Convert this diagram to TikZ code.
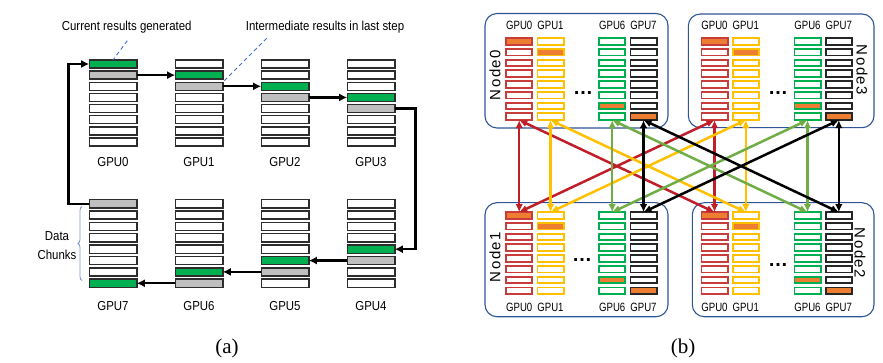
\documentclass[tikz,border=0pt]{standalone}
\usepackage{fontspec}
\setmainfont{Liberation Sans}
\newfontfamily\capfont{Liberation Serif}
\usetikzlibrary{arrows.meta,decorations.pathreplacing,calc}
\definecolor{gfill}{RGB}{0,176,80}
\definecolor{grfill}{RGB}{191,191,191}
\definecolor{blkline}{RGB}{45,45,45}
\definecolor{dashblue}{RGB}{68,114,196}
\definecolor{bracecol}{RGB}{120,150,200}
\definecolor{cred}{RGB}{200,60,60}
\definecolor{ared}{RGB}{192,30,40}
\definecolor{cyel}{RGB}{255,192,0}
\definecolor{ayel}{RGB}{255,192,0}
\definecolor{cgrn}{RGB}{0,176,80}
\definecolor{agrn}{RGB}{112,173,71}
\definecolor{cblk}{RGB}{38,38,38}
\definecolor{ablack}{RGB}{0,0,0}
\definecolor{orfill}{RGB}{237,125,49}
\definecolor{nboxcol}{RGB}{47,85,151}
\newcommand\cnd[1]{\scalebox{0.88}[1]{#1}}
\newcommand\cndb[1]{\scalebox{0.8}[1]{#1}}
\begin{document}
\begin{tikzpicture}[x=1pt,y=-1pt,
  ablk/.style={draw=blkline, line width=1.4pt, minimum width=47.6pt, minimum height=8.1pt, inner sep=0pt, outer sep=0pt},
  alab/.style={font=\fontsize{13}{15}\selectfont, inner sep=0pt},
  atxt/.style={font=\fontsize{13}{15}\selectfont, inner sep=0pt},
  aarr/.style={line width=2.4pt, draw=black, -{Latex[length=8pt,width=8pt]}},
  dsh/.style={draw=dashblue, line width=0.9pt, dash pattern=on 4pt off 3pt},
  bblk/.style={line width=1.8pt, minimum width=26.2pt, minimum height=6.7pt, inner sep=0pt, outer sep=0pt},
  blab/.style={font=\fontsize{12}{14}\selectfont, inner sep=0pt},
  nbox/.style={draw=nboxcol, line width=1.1pt, rounded corners=12pt, inner sep=0pt},
  nlab/.style={font=\fontsize{15}{17}\selectfont\addfontfeatures{LetterSpace=10}, inner sep=0pt},
  dots/.style={font=\fontsize{20}{20}\selectfont\bfseries, inner sep=0pt},
  barr/.style={line width=2.5pt, {Latex[length=8pt,width=7.5pt]}-{Latex[length=8pt,width=7.5pt]}},
  capt/.style={font=\capfont\fontsize{21}{24}\selectfont, inner sep=0pt}
]
\useasboundingbox (0,0) rectangle (883,363);

% ---------------- panel (a) ----------------
\foreach \g/\cx in {0/113,1/199,2/285,3/371}{
  \pgfmathtruncatemacro\gr{mod(\g+1,8)}
  \foreach \r in {0,...,7}{
    \ifnum\r=\g \def\fc{gfill}\else\ifnum\r=\gr \def\fc{grfill}\else\def\fc{white}\fi\fi
    \node[ablk, fill=\fc] (a\g-\r) at (\cx, 64+11.15*\r) {};
  }
  \node[alab] (la\g) at (\cx,162) {\cnd{GPU\g}};
}
\foreach \g/\cx in {7/113,6/199,5/285,4/371}{
  \pgfmathtruncatemacro\gr{mod(\g+1,8)}
  \foreach \r in {0,...,7}{
    \ifnum\r=\g \def\fc{gfill}\else\ifnum\r=\gr \def\fc{grfill}\else\def\fc{white}\fi\fi
    \node[ablk, fill=\fc] (a\g-\r) at (\cx, 203.8+11.35*\r) {};
  }
  \node[alab] (la\g) at (\cx,305.7) {\cnd{GPU\g}};
}

\draw[aarr] (a0-1.east) -- (a1-1.west);
\draw[aarr] (a1-2.east) -- (a2-2.west);
\draw[aarr] (a2-3.east) -- (a3-3.west);
\coordinate (rt) at (415.5,0);
\draw[aarr] (a3-4.east) -| (rt |- a4-4.east) -- (a4-4.east);
\draw[aarr] (a4-5.west) -- (a5-5.east);
\draw[aarr] (a5-6.west) -- (a6-6.east);
\draw[aarr] (a6-7.west) -- (a7-7.east);
\coordinate (lt) at (68.3,0);
\draw[aarr] (a7-0.west) -| (lt |- a0-0.west) -- (a0-0.west);

\node[atxt] (cur) at (126.7,26.7) {\cnd{Current results generated}};
\node[atxt] (inter) at (325,26.7) {\cnd{Intermediate results in last step}};
\coordinate (d1) at (127.3,40.7);
\coordinate (d2) at (266.7,38.3);
\draw[dsh] (d1) -- (a0-0.north);
\draw[dsh] (d2) -- (a1-2.north east);

\coordinate (bb) at (82,280.5);
\coordinate (bt) at (82,206.5);
\draw[draw=bracecol, line width=0.8pt, decorate, decoration={brace, amplitude=4pt}] (bb) -- (bt);
\node[font=\fontsize{13}{19}\selectfont, align=center, inner sep=0pt] (dc) at (57,246) {\cnd{Data}\\\cnd{Chunks}};

\node[capt] (capa) at (227,348) {(a)};

% ---------------- panel (b) ----------------
\node[nbox, minimum width=183pt, minimum height=114.5pt] (N0) at (576.5,70.75) {};
\node[nbox, minimum width=185.7pt, minimum height=113.7pt] (N3) at (781.15,70.85) {};
\node[nbox, minimum width=183pt, minimum height=114pt] (N1) at (576.5,259.7) {};
\node[nbox, minimum width=181.7pt, minimum height=114pt] (N2) at (783.15,259.7) {};

\foreach \n/\xa/\ya/\ly in {0/519.2/41.5/25, 3/714.5/41.5/25, 1/519.2/215.5/307, 2/714.5/215.5/307}{
  \foreach \c/\dx/\col in {0/0/cred,1/31.3/cyel,6/93/cgrn,7/124.3/cblk}{
    \foreach \r in {0,...,7}{
      \ifnum\r=\c \def\fc{orfill}\else\def\fc{white}\fi
      \node[bblk, draw=\col, fill=\fc] (n\n-\c-\r) at (\xa+\dx, \ya+10.75*\r) {};
    }
    \node[blab] (l\n-\c) at (\xa+\dx,\ly) {\cndb{GPU\c}};
  }
}

\node[nlab, rotate=90] (t0) at (495,75) {Node0};
\node[nlab, rotate=90] (t1) at (495,257) {Node1};
\node[nlab, rotate=-90] (t3) at (862,70) {Node3};
\node[nlab, rotate=-90] (t2) at (860,253) {Node2};

\node[dots] (e0) at (583,93) {\ldots};
\node[dots] (e3) at (778,93) {\ldots};
\node[dots] (e1) at (582,260) {\ldots};
\node[dots] (e2) at (778,265) {\ldots};

\foreach \c/\col in {0/ared,1/ayel,6/agrn,7/ablack}{
  \draw[barr, draw=\col] (n0-\c-7.south) -- (n1-\c-0.north);
  \draw[barr, draw=\col] (n3-\c-7.south) -- (n2-\c-0.north);
  \draw[barr, draw=\col] (n0-\c-7.south) -- (n2-\c-0.north);
  \draw[barr, draw=\col] (n1-\c-0.north) -- (n3-\c-7.south);
}

\node[capt] (capb) at (683,348) {(b)};
\end{tikzpicture}
\end{document}
